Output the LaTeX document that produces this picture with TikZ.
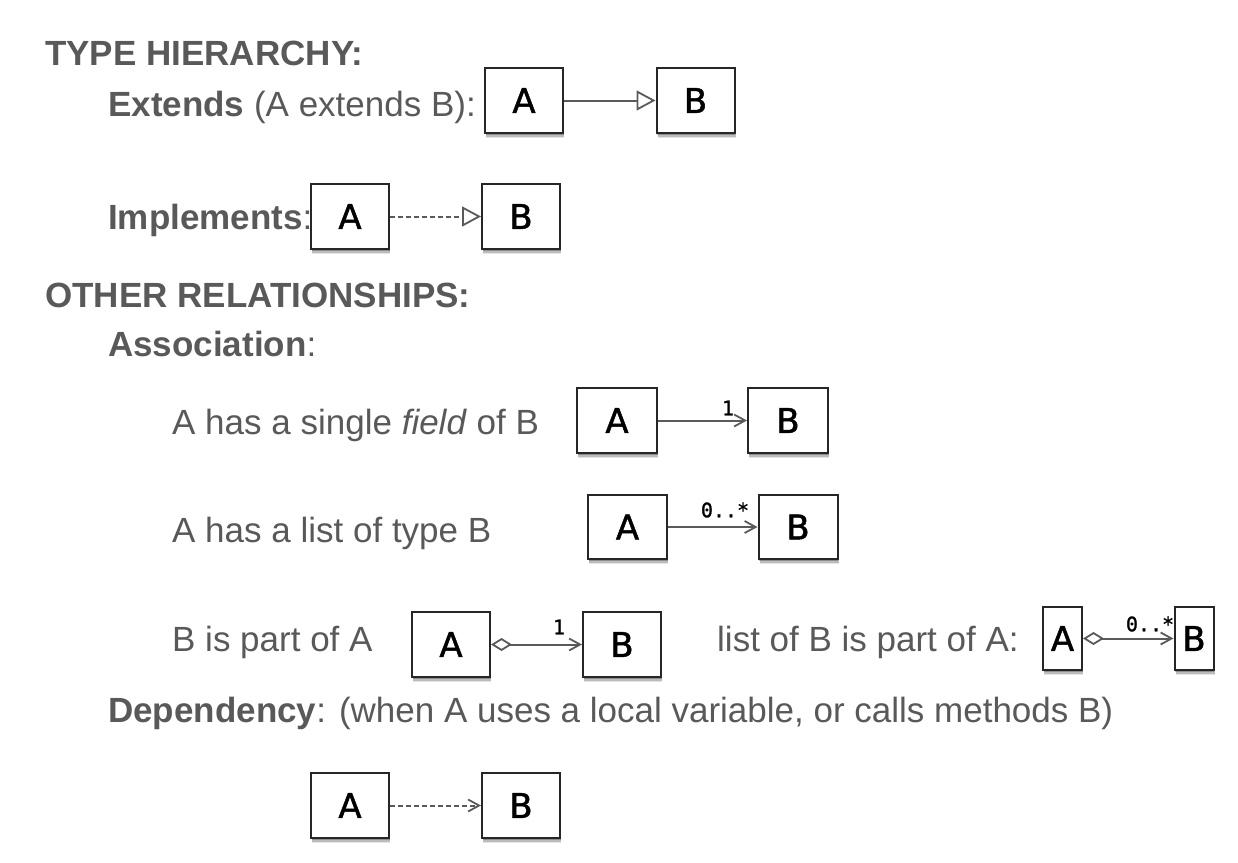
\documentclass[tikz,border=0pt]{standalone}
\usepackage{fontspec}
\setmainfont{Liberation Sans}
\newfontfamily\boxfont[FakeBold=1.4]{DejaVu Sans}
\newfontfamily\labfont[FakeBold=1.2]{DejaVu Sans Mono}
\usetikzlibrary{arrows.meta,shadows}
\definecolor{txt}{HTML}{595959}
\definecolor{ln}{HTML}{5A5A5A}
\begin{document}
\begin{tikzpicture}[x=1pt,y=-1pt,
  umlbox/.style={draw=black!85,line width=2pt,fill=white,inner sep=0pt,
    minimum width=78pt,minimum height=65pt,
    font=\boxfont\fontsize{34}{36}\selectfont,text=black,
    drop shadow={shadow xshift=1pt,shadow yshift=-5pt,opacity=0.10,fill=black},
    drop shadow={shadow xshift=1pt,shadow yshift=-3.5pt,opacity=0.18,fill=black},
    drop shadow={shadow xshift=0.5pt,shadow yshift=-2pt,opacity=0.25,fill=black}},
  narrowbox/.style={umlbox,minimum width=39pt,minimum height=63pt},
  body/.style={anchor=base west,inner sep=0pt,text=txt,font=\fontsize{35}{40}\selectfont},
  head/.style={body,font=\fontsize{35}{40}\selectfont\bfseries},
  rel/.style={draw=ln,line width=2pt},
  dashedrel/.style={rel,dash pattern=on 4.5pt off 3.5pt},
  gen/.style={-{Triangle[open,length=19pt,width=20pt,line width=1.8pt]}},
  assoc/.style={-{Straight Barb[length=11pt,width=12pt,line width=1.8pt]}},
  aggr/.style={{Diamond[open,length=21pt,width=13pt,line width=1.8pt]}-{Straight Barb[length=11pt,width=12pt,line width=1.8pt]}},
  mult/.style={inner sep=0pt,text=black,font=\labfont\fontsize{20}{22}\selectfont}
]
\useasboundingbox (0,0) rectangle (1238,862);

% headings and texts
\node[head] (th) at (45,65) {TYPE HIERARCHY:};
\node[body] (ext) at (108,116) {\textbf{Extends} (A extends B):};
\node[body] (impl) at (108,229) {\textbf{Implements}:};
\node[head] (other) at (45,307) {OTHER RELATIONSHIPS:};
\node[body] (asso) at (108,356) {\textbf{Association}:};
\node[body] (single) at (172,434) {A has a single \textit{field} of B};
\node[body] (list) at (172,542) {A has a list of type B};
\node[body] (part) at (172,651) {B is part of A};
\node[body] (lpart) at (717,651) {list of B is part of A:};
\node[body] (dep) at (108,722) {\textbf{Dependency}: (when A uses a local variable, or calls methods B)};

% boxes
\node[umlbox] (a1) at (524,100.5) {A};
\node[umlbox] (b1) at (695.5,100.5) {B};
\node[umlbox] (a2) at (350,216.5) {A};
\node[umlbox] (b2) at (521,216.5) {B};
\node[umlbox,minimum width=80pt] (a3) at (617,420.5) {A};
\node[umlbox,minimum width=80pt] (b3) at (788,420.5) {B};
\node[umlbox,minimum width=79pt,minimum height=64pt] (a4) at (627.5,527) {A};
\node[umlbox,minimum width=79pt,minimum height=64pt] (b4) at (798,527) {B};
\node[umlbox] (a5) at (451,644.5) {A};
\node[umlbox] (b5) at (622,644.5) {B};
\node[narrowbox] (a6) at (1062.5,638.5) {A};
\node[narrowbox] (b6) at (1194,638.5) {B};
\node[umlbox] (a7) at (350,805.5) {A};
\node[umlbox] (b7) at (521,805.5) {B};

% connectors
\draw[rel,gen] (a1) -- (b1);
\draw[dashedrel,gen] (a2) -- (b2);
\draw[rel,assoc] (a3) -- (b3);
\draw[rel,assoc] (a4) -- (b4);
\draw[rel,aggr] (a5) -- (b5);
\draw[rel,aggr] (a6) -- (b6);
\draw[dashedrel,assoc] (a7) -- (b7);

% multiplicities
\node[mult] (m3) at (728,408) {1};
\node[mult] (m4) at (725,510) {0..*};
\node[mult] (m5) at (559,627) {1};
\node[mult] (m6) at (1150,624) {0..*};
\end{tikzpicture}
\end{document}
